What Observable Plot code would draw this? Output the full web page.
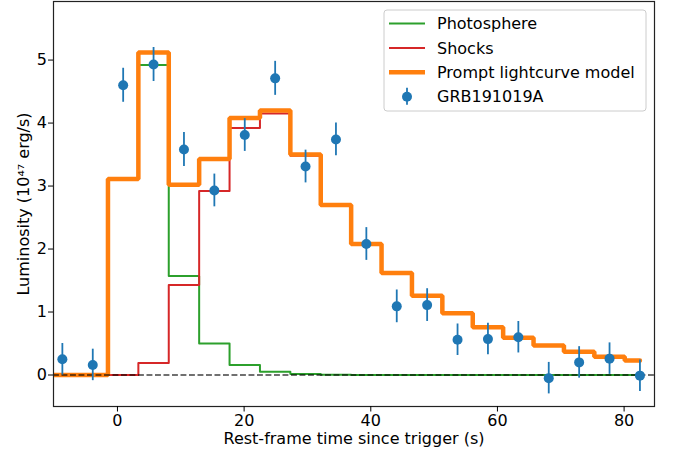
<!DOCTYPE html>
<html>
<head>
<meta charset="utf-8">
<script src="https://cdn.jsdelivr.net/npm/d3@7"></script>
<script src="https://cdn.jsdelivr.net/npm/@observablehq/plot@0.6"></script>
<style>
  html, body { margin: 0; padding: 0; background: #fff; }
  #chart svg { display: block; }
  #chart svg text { font-family: 'DejaVu Sans', sans-serif; font-size: 16px; fill: #000; }
</style>
</head>
<body>
<div id="chart"></div>
<script>
// Model time grid (bin centres, s) and model components (1e47 erg/s)
const modelTime   = [-13.5, -8.7, -3.9, 0.9, 5.7, 10.5, 15.3, 20.1, 24.9, 29.7, 34.5, 39.3, 44.1, 48.9, 53.7, 58.5, 63.3, 68.1, 72.9, 77.7, 82.5];
const photosphere = [0, 0, 0, 3.11, 4.92, 1.57, 0.50, 0.16, 0.05, 0.015, 0.005, 0.002, 0.001, 0, 0, 0, 0, 0, 0, 0, 0];
const shocks      = [0, 0, 0, 0, 0.19, 1.43, 2.92, 3.92, 4.15, 3.48, 2.69, 2.08, 1.62, 1.26, 0.98, 0.76, 0.59, 0.47, 0.37, 0.29, 0.23];
const prompt      = [0, 0, 0, 3.11, 5.12, 3.02, 3.43, 4.08, 4.20, 3.50, 2.70, 2.08, 1.62, 1.26, 0.98, 0.76, 0.59, 0.47, 0.37, 0.29, 0.23];

// Observed GRB191019A light curve
const obsTime = [-8.7, -3.9, 0.9, 5.7, 10.5, 15.3, 20.1, 24.9, 29.7, 34.5, 39.3, 44.1, 48.9, 53.7, 58.5, 63.3, 68.1, 72.9, 77.7, 82.5];
const obsLum  = [0.25, 0.16, 4.60, 4.93, 3.58, 2.93, 3.81, 4.71, 3.31, 3.74, 2.08, 1.09, 1.11, 0.56, 0.57, 0.60, -0.05, 0.20, 0.26, -0.01];
const obsErr  = [0.25, 0.25, 0.27, 0.27, 0.27, 0.26, 0.26, 0.27, 0.26, 0.26, 0.26, 0.26, 0.26, 0.25, 0.25, 0.25, 0.25, 0.25, 0.25, 0.25];

const xTicks = [0, 20, 40, 60, 80];
const yTicks = [0, 1, 2, 3, 4, 5];

const model = modelTime.map((t, i) => ({t, ph: photosphere[i], sh: shocks[i], pr: prompt[i]}));
const obs = obsTime.map((t, i) => ({t, L: obsLum[i], e: obsErr[i]}));

const C = {blue: "#1f77b4", orange: "#ff7f0e", green: "#2ca02c", red: "#d62728"};
const FONT = "'DejaVu Sans', sans-serif";
const FS = 16;

const plot = Plot.plot({
  width: 673,
  height: 456,
  marginLeft: 53,
  marginRight: 19,
  marginTop: 1,
  marginBottom: 50,
  style: "font-family: 'DejaVu Sans', sans-serif; font-size: 16px; background: #fff; color: #000; overflow: visible;",
  x: {domain: [-10.1, 84.8]},
  y: {domain: [-0.5, 5.93]},
  marks: [
    Plot.line(model, {x: "t", y: "ph", curve: "step", stroke: C.green, strokeWidth: 2, clip: "frame"}),
    Plot.line(model, {x: "t", y: "sh", curve: "step", stroke: C.red, strokeWidth: 2, clip: "frame"}),
    Plot.line(model, {x: "t", y: "pr", curve: "step", stroke: C.orange, strokeWidth: 4.5, strokeLinejoin: "miter", clip: "frame"}),
    Plot.ruleY([0], {stroke: "#000", strokeOpacity: 0.75, strokeWidth: 1.5, strokeDasharray: "5.9,2.6"}),
    Plot.ruleX(obs, {x: "t", y1: d => d.L - d.e, y2: d => d.L + d.e, stroke: C.blue, strokeWidth: 1.8}),
    Plot.dot(obs, {x: "t", y: "L", r: 5, fill: C.blue, stroke: "none"}),
    Plot.frame({stroke: "#222", strokeWidth: 1.2}),
    Plot.axisX({ticks: xTicks, tickFormat: d => String(d), tickSize: 5.5, tickPadding: 3, fontSize: FS,
      label: "Rest-frame time since trigger (s)", labelAnchor: "center", labelArrow: "none", labelOffset: 37}),
    Plot.axisY({ticks: yTicks, tickFormat: d => String(d), tickSize: 5, tickPadding: 1.5, fontSize: FS,
      label: "Luminosity (10⁴⁷ erg/s)", labelAnchor: "center", labelArrow: "none", labelOffset: 35.5})
  ]
});

document.getElementById("chart").appendChild(plot);

// Legend (upper right, matplotlib style)
const svg = d3.select(plot);
const lg = svg.append("g").attr("font-family", FONT).attr("font-size", FS + "px").attr("text-anchor", "start");
lg.append("rect").attr("x", 384).attr("y", 10).attr("width", 262).attr("height", 101)
  .attr("rx", 3).attr("fill", "#fff").attr("fill-opacity", 0.8).attr("stroke", "#cccccc").attr("stroke-width", 1);
const entries = [
  {label: "Photosphere", color: C.green, w: 2, type: "line"},
  {label: "Shocks", color: C.red, w: 2, type: "line"},
  {label: "Prompt lightcurve model", color: C.orange, w: 4.5, type: "line"},
  {label: "GRB191019A", color: C.blue, type: "dot"}
];
entries.forEach((e, i) => {
  const y = 23.5 + i * 24.4;
  if (e.type === "line") {
    lg.append("line").attr("x1", 389).attr("x2", 425).attr("y1", y).attr("y2", y)
      .attr("stroke", e.color).attr("stroke-width", e.w);
  } else {
    lg.append("line").attr("x1", 407).attr("x2", 407).attr("y1", y - 9).attr("y2", y + 8)
      .attr("stroke", e.color).attr("stroke-width", 1.8);
    lg.append("circle").attr("cx", 407).attr("cy", y).attr("r", 5).attr("fill", e.color);
  }
  lg.append("text").attr("x", 437).attr("y", y).attr("dy", "0.36em").attr("text-anchor", "start").text(e.label);
});
</script>
</body>
</html>
